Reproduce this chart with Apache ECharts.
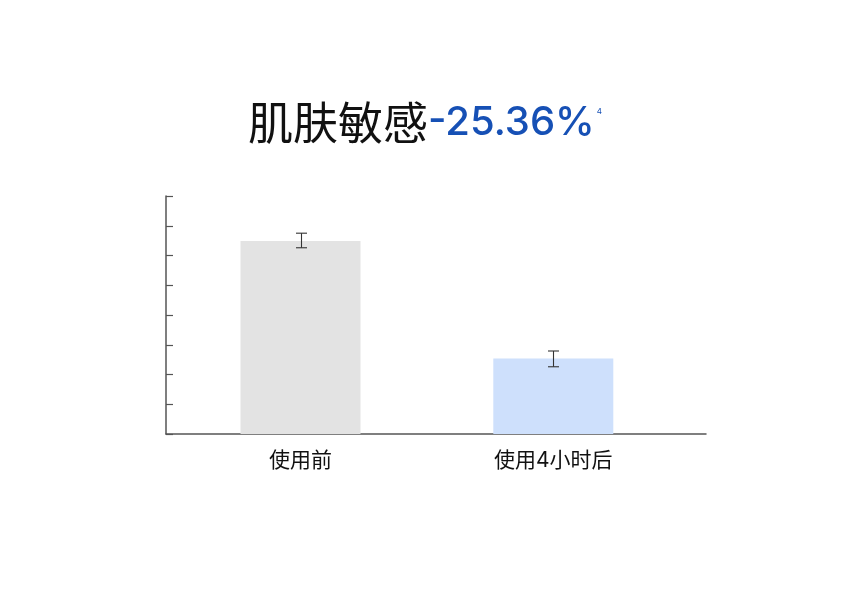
<!DOCTYPE html>
<html>
<head>
<meta charset="utf-8">
<script src="https://cdn.jsdelivr.net/npm/echarts@6/dist/echarts.min.js"></script>
<style>html,body{margin:0;padding:0;background:#fff}#c{width:850px;height:595px}</style>
</head>
<body>
<div id="c"></div>
<script>
var categories = ['使用前', '使用4小时后'];
var values = [64.9, 25.4];
var errLow = [62.6, 22.6];
var errHigh = [67.5, 27.9];
var barColors = ['#e3e3e3', '#cee0fc'];
var yMin = 0, yMax = 80, yInterval = 10;

var chart = echarts.init(document.getElementById('c'));
var FONT = 'Inter, "Noto Sans CJK SC", sans-serif';
var errData = categories.map(function (c, i) { return [i, errLow[i], errHigh[i]]; });

chart.setOption({
  backgroundColor: '#fff',
  animation: false,
  title: {
    left: 'center',
    top: 90,
    text: '{a|肌肤敏感}{b|-25.36%}{c|4}',
    textStyle: {
      fontWeight: 'normal',
      rich: {
        a: { fontFamily: '"Noto Sans CJK SC", sans-serif', fontWeight: 'normal', fontSize: 45, color: '#111', lineHeight: 56 },
        b: { fontFamily: 'Inter, sans-serif', fontWeight: 500, fontSize: 40, color: '#1650b5', lineHeight: 56 },
        c: { fontFamily: 'Inter, sans-serif', fontWeight: 'normal', fontSize: 8, color: '#1650b5', verticalAlign: 'top', lineHeight: 56, padding: [13, 0, 0, 2] }
      }
    }
  },
  grid: [
    { left: 174.1, right: 170.3, top: 196, bottom: 161 },
    { left: 166, right: 144, top: 196, bottom: 161 }
  ],
  xAxis: [
    {
      type: 'category', gridIndex: 0, data: categories,
      axisLine: { show: false }, axisTick: { show: false },
      axisLabel: { fontFamily: FONT, fontSize: 21, color: '#111', margin: 16, lineHeight: 22 }
    },
    {
      type: 'category', gridIndex: 1, data: categories,
      axisLine: { lineStyle: { color: '#555', width: 1.5 } },
      axisTick: { show: false }, axisLabel: { show: false }
    }
  ],
  yAxis: [
    { type: 'value', gridIndex: 0, min: yMin, max: yMax, interval: yInterval, show: false },
    {
      type: 'value', gridIndex: 1, min: yMin, max: yMax, interval: yInterval,
      axisLine: { show: true, lineStyle: { color: '#555', width: 1.5 } },
      axisTick: { show: true, inside: true, length: 7, lineStyle: { color: '#555', width: 1.2 } },
      axisLabel: { show: false }, splitLine: { show: false }
    }
  ],
  series: [
    {
      type: 'bar', xAxisIndex: 0, yAxisIndex: 0, barWidth: 120,
      data: values.map(function (v, i) { return { value: v, itemStyle: { color: barColors[i] } }; })
    },
    {
      type: 'custom', xAxisIndex: 0, yAxisIndex: 0, z: 5,
      data: errData,
      encode: { x: 0, y: [1, 2] },
      renderItem: function (params, api) {
        var lo = api.coord([api.value(0), api.value(1)]);
        var hi = api.coord([api.value(0), api.value(2)]);
        var x = Math.round(lo[0]) + 0.5, hw = 5.5;
        var st = { stroke: '#333', lineWidth: 1.1 };
        return {
          type: 'group',
          children: [
            { type: 'line', shape: { x1: x, y1: hi[1], x2: x, y2: lo[1] }, style: st },
            { type: 'line', shape: { x1: x - hw, y1: hi[1], x2: x + hw, y2: hi[1] }, style: st },
            { type: 'line', shape: { x1: x - hw, y1: lo[1], x2: x + hw, y2: lo[1] }, style: st }
          ]
        };
      }
    }
  ]
});
</script>
</body>
</html>
